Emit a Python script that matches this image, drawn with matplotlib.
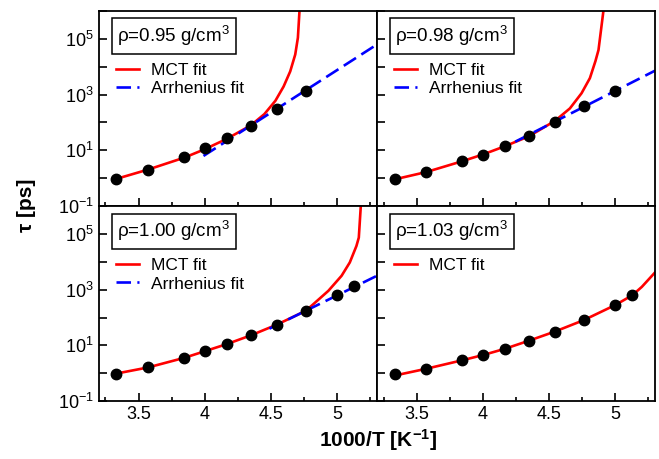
import matplotlib
matplotlib.use("Agg")
import matplotlib.pyplot as plt
from matplotlib.ticker import NullLocator

plt.rcParams['font.family'] = ['Liberation Sans', 'DejaVu Sans']
plt.rcParams['mathtext.fontset'] = 'custom'
plt.rcParams['mathtext.rm'] = 'Liberation Sans'
plt.rcParams['mathtext.it'] = 'Liberation Sans:italic'
plt.rcParams['mathtext.bf'] = 'Liberation Sans:bold'

# 1000/T of the simulated temperatures (300 K ... 195 K)
inv_T = [3.333, 3.571, 3.846, 4.0, 4.167, 4.348, 4.545, 4.762, 5.0, 5.128]

# relaxation times [ps]
tau_095 = [0.95, 2.0, 5.6, 11.7, 27, 72, 310, 1380]
tau_098 = [0.91, 1.66, 4.1, 7.1, 14, 32, 105, 400, 1380]
tau_100 = [0.98, 1.62, 3.6, 6.2, 11.2, 23, 56, 174, 660, 1320]
tau_103 = [0.91, 1.48, 3.1, 4.5, 7.6, 15, 30, 83, 290, 620]

# MCT fit curves
mct_x_095 = [3.333, 3.571, 3.846, 4.0, 4.167, 4.348, 4.45, 4.533, 4.595, 4.645, 4.683, 4.703, 4.715]
mct_y_095 = [0.95, 2.04, 5.5, 11, 26, 79, 200, 600, 1950, 6800, 27500, 110000, 1e6]
mct_x_098 = [3.333, 3.571, 3.846, 4.0, 4.167, 4.348, 4.545, 4.657, 4.745, 4.808, 4.85, 4.873, 4.91]
mct_y_098 = [0.91, 1.66, 4.1, 7.1, 14.1, 32, 115, 320, 1120, 3900, 16000, 40000, 1e6]
mct_x_100 = [3.333, 3.571, 3.846, 4.0, 4.167, 4.348, 4.545, 4.762, 4.808, 4.933, 5.033, 5.095, 5.145, 5.163, 5.178]
mct_y_100 = [0.98, 1.62, 3.6, 6.2, 11.2, 23, 56, 174, 270, 910, 3160, 9500, 37000, 74000, 1e6]
mct_x_103 = [3.333, 3.571, 3.846, 4.0, 4.167, 4.348, 4.545, 4.762, 5.0, 5.128, 5.2, 5.3]
mct_y_103 = [0.83, 1.45, 2.95, 4.5, 7.6, 14.8, 31.6, 81, 282, 630, 1260, 4170]

# Arrhenius fits: end points of the straight lines
arr_x_095 = [3.99, 5.3]
arr_y_095 = [6.3, 63000]
arr_x_098 = [4.244, 5.3]
arr_y_098 = [20.4, 7240]
arr_x_100 = [4.488, 5.3]
arr_y_100 = [40, 3160]

densities = ['0.95', '0.98', '1.00', '1.03']
panels = [
    (tau_095, mct_x_095, mct_y_095, arr_x_095, arr_y_095),
    (tau_098, mct_x_098, mct_y_098, arr_x_098, arr_y_098),
    (tau_100, mct_x_100, mct_y_100, arr_x_100, arr_y_100),
    (tau_103, mct_x_103, mct_y_103, None, None),
]

fig, axes = plt.subplots(2, 2, figsize=(6.59, 4.59), dpi=100)
fig.subplots_adjust(left=0.150, right=0.994, top=0.976, bottom=0.126,
                    wspace=0, hspace=0)

yticks = [10.0 ** k for k in range(-1, 7)]

for i, ax in enumerate(axes.flat):
    tau, mx, my, ax_x, ax_y = panels[i]
    ax.plot(mx, my, color='red', lw=1.9, label='MCT fit', zorder=2)
    if ax_x is not None:
        ax.plot(ax_x, ax_y, color='blue', lw=1.9, dashes=(5.5, 2.4),
                label='Arrhenius fit', zorder=2)
    ax.plot(inv_T[:len(tau)], tau, 'o', color='black', ms=7.5, zorder=3)

    ax.set_xlim(3.2, 5.3)
    ax.set_yscale('log')
    ax.set_ylim(0.1, 1e6)
    ax.set_xticks([3.5, 4, 4.5, 5])
    ax.set_xticklabels(['3.5', '4', '4.5', '5'])
    ax.set_xticks([3.25, 3.75, 4.25, 4.75, 5.25], minor=True)
    ax.set_yticks(yticks)
    ax.set_yticklabels([r'$10^{%d}$' % k if k % 2 else '' for k in range(-1, 7)])
    ax.yaxis.set_minor_locator(NullLocator())
    ax.tick_params(which='both', direction='in', top=False, right=False,
                   labelsize=13, width=1.2)
    ax.tick_params(which='major', length=5.5)
    ax.tick_params(which='minor', length=2.8)
    for sp in ax.spines.values():
        sp.set_linewidth(1.3)
    if i < 2:
        ax.tick_params(labelbottom=False)
    if i % 2:
        ax.tick_params(labelleft=False)

    ax.text(0.066, 0.933, r'ρ=%s g/cm$^3$' % densities[i],
            transform=ax.transAxes, fontsize=13.5, ha='left', va='top',
            bbox=dict(boxstyle='square,pad=0.3', fc='white', ec='black', lw=1.1))
    ax.legend(loc='upper left', bbox_to_anchor=(0.061, 0.735), frameon=False,
              fontsize=12.5, handlelength=1.32, handletextpad=0.69,
              labelspacing=0.2, borderpad=0, borderaxespad=0)

fig.text(0.574, 0.013, r'1000/T [K$^{\mathbf{-1}}$]', ha='center', va='bottom',
         fontsize=15, fontweight='bold')
fig.text(0.04, 0.553, 'τ [ps]', ha='center', va='center', rotation=90,
         fontsize=15, fontweight='bold')

fig.savefig('out.png', dpi=100)
